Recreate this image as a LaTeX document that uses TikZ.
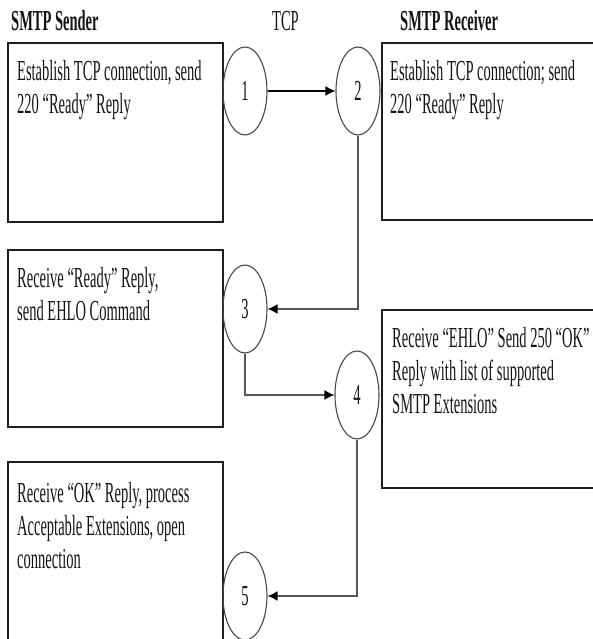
\documentclass[tikz,border=0pt]{standalone}
\usepackage{fontspec}
\setmainfont{Liberation Serif}[FakeStretch=0.5]
\usetikzlibrary{arrows.meta,shapes.geometric}
\definecolor{SMTPText}{HTML}{141414}
\definecolor{SMTPStroke}{HTML}{1E1E1E}
\definecolor{SMTPLink}{HTML}{555555}
\definecolor{SMTPRing}{HTML}{484848}
\tikzset{
  stepbox/.style={draw=SMTPStroke,line width=1.4pt,inner sep=0pt,minimum width=215pt},
  steptext/.style={anchor=north west,align=left,inner sep=0pt,text=SMTPText},
  ring/.style={draw=SMTPRing,ellipse,line width=1.1pt,inner sep=0pt,minimum width=44pt,minimum height=88pt,text=SMTPText},
  flow/.style={draw=SMTPLink,line width=1.6pt,-{Latex[length=10pt,width=10pt,color=black]}},
  head/.style={anchor=base west,inner sep=0pt,text=SMTPText}
}

\begin{document}
\begin{tikzpicture}[x=1pt,y=-1pt,font=\fontsize{29}{33}\selectfont]
  \clip (0,0) rectangle (593,639);

  % column heads
  \node[head,font=\fontsize{29}{33}\selectfont\bfseries] (hsend) at (11,31) {SMTP Sender};
  \node[head] (htcp) at (272,31) {TCP};
  \node[head,font=\fontsize{29}{33}\selectfont\bfseries] (hrecv) at (400,31) {SMTP Receiver};

  % sender side
  \node[stepbox,minimum height=179pt] (s1) at (115.5,132.5) {};
  \node[steptext] (s1text) at (17,60) {Establish TCP connection, send\\220 “Ready” Reply};
  \node[stepbox,minimum height=177pt] (s2) at (115.5,338.5) {};
  \node[steptext] (s2text) at (17,267) {Receive “Ready” Reply,\\send EHLO Command};
  \node[stepbox,minimum height=198pt] (s3) at (115.5,561) {};
  \node[steptext] (s3text) at (17,482) {Receive “OK” Reply, process\\Acceptable Extensions, open\\connection};

  % receiver side
  \node[stepbox,minimum width=218pt,minimum height=177pt] (r1) at (491,131.5) {};
  \node[steptext] (r1text) at (390,60) {Establish TCP connection; send\\220 “Ready” Reply};
  \node[stepbox,minimum width=218pt,minimum height=178pt] (r2) at (491,399) {};
  \node[steptext] (r2text) at (392,327) {Receive “EHLO” Send 250 “OK”\\Reply with list of supported\\SMTP Extensions};

  % tcp steps
  \node[ring] (c1) at (245,91) {1};
  \node[ring] (c2) at (358,91) {2};
  \node[ring] (c3) at (245,309) {3};
  \node[ring] (c4) at (357,395) {4};
  \node[ring] (c5) at (245,596) {5};

  \draw[flow,draw=black] (c1) -- (c2);
  \draw[flow] (c2.south) |- (c3.east);
  \draw[flow] (c3.south) |- (c4.west);
  \draw[flow] (c4.south) |- (c5.east);
\end{tikzpicture}
\end{document}
